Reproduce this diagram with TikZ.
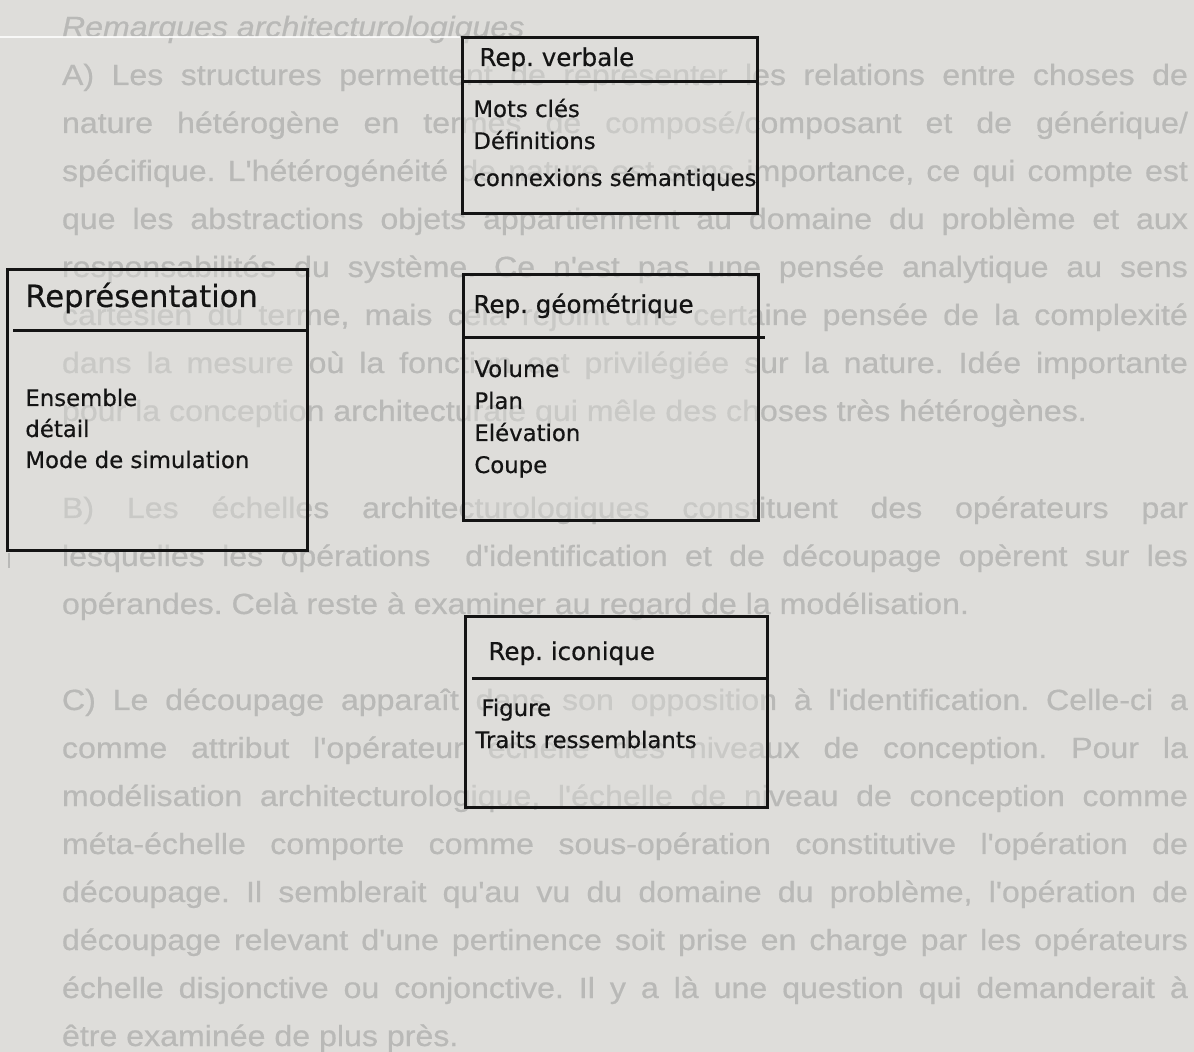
\documentclass[tikz,border=0pt]{standalone}
\usepackage{fontspec}
\setmainfont{DejaVu Sans}
\newfontfamily\pagefont{Liberation Sans}[FakeStretch=1.1, FakeBold=0.6]
\newfontfamily\boxfont{DejaVu Sans}[FakeBold=0.5]

\definecolor{pagebg}{HTML}{DEDDDA}
\definecolor{pagegray}{HTML}{B9B9B7}
\definecolor{inkblack}{HTML}{141414}

\tikzset{
  pagetext/.style={anchor=base west, inner sep=0pt, outer sep=0pt, text=pagegray,
    font=\pagefont\fontsize{14.6pt}{17pt}\selectfont},
  classbox/.style={draw=inkblack, line width=1.5pt, fill=pagebg, fill opacity=0.45,
    inner sep=0pt, outer sep=0pt, rectangle},
  sepline/.style={draw=inkblack, line width=1.5pt},
  headtext/.style={anchor=base west, inner sep=0pt, text=inkblack,
    font=\boxfont\fontsize{12.3pt}{14pt}\selectfont},
  bigheadtext/.style={anchor=base west, inner sep=0pt, text=inkblack,
    font=\boxfont\fontsize{15.3pt}{18pt}\selectfont},
  itemtext/.style={anchor=base west, inner sep=0pt, text=inkblack,
    font=\boxfont\fontsize{11.4pt}{13pt}\selectfont},
}
\newcommand{\jline}[1]{\makebox[563pt][s]{#1}}

\begin{document}
\frenchspacing
\begin{tikzpicture}[x=0.5pt, y=-0.5pt]
  % page
  \fill[pagebg] (0,0) rectangle (1194,1052);
  \useasboundingbox (0,0) rectangle (1194,1052);

  % running text of the page
  \node[pagetext] (title) at (62,37) {\itshape Remarques architecturologiques};
  \node[pagetext] (a1) at (62,85)  {\jline{A) Les structures permettent de représenter les relations entre choses de}};
  \node[pagetext] (a2) at (62,133) {\jline{nature hétérogène en termes de composé/composant et de générique/}};
  \node[pagetext] (a3) at (62,181) {\jline{spécifique. L'hétérogénéité de nature est sans importance, ce qui compte est}};
  \node[pagetext] (a4) at (62,229) {\jline{que les abstractions objets appartiennent au domaine du problème et aux}};
  \node[pagetext] (a5) at (62,277) {\jline{responsabilités du système. Ce n'est pas une pensée analytique au sens}};
  \node[pagetext] (a6) at (62,325) {\jline{cartesien du terme, mais cela rejoint une certaine pensée de la complexité}};
  \node[pagetext] (a7) at (62,373) {\jline{dans la mesure où la fonction est privilégiée sur la nature. Idée importante}};
  \node[pagetext] (a8) at (62,421) {pour la conception architecturale qui mêle des choses très hétérogènes.};
  \node[pagetext] (b1) at (62,518) {\jline{B) Les échelles architecturologiques constituent des opérateurs par}};
  \node[pagetext] (b2) at (62,566) {\jline{lesquelles les opérations\ \ d'identification et de découpage opèrent sur les}};
  \node[pagetext] (b3) at (62,614) {opérandes. Celà reste à examiner au regard de la modélisation.};
  \node[pagetext] (c1) at (62,710) {\jline{C) Le découpage apparaît dans son opposition à l'identification. Celle-ci a}};
  \node[pagetext] (c2) at (62,758) {\jline{comme attribut l'opérateur échelle des niveaux de conception. Pour la}};
  \node[pagetext] (c3) at (62,806) {\jline{modélisation architecturologique, l'échelle de niveau de conception comme}};
  \node[pagetext] (c4) at (62,854) {\jline{méta-échelle comporte comme sous-opération constitutive l'opération de}};
  \node[pagetext] (c5) at (62,902) {\jline{découpage. Il semblerait qu'au vu du domaine du problème, l'opération de}};
  \node[pagetext] (c6) at (62,950) {\jline{découpage relevant d'une pertinence soit prise en charge par les opérateurs}};
  \node[pagetext] (c7) at (62,998) {\jline{échelle disjonctive ou conjonctive. Il y a là une question qui demanderait à}};
  \node[pagetext] (c8) at (62,1046) {être examinée de plus près.};

  % scanner streak and margin mark
  \draw[white, opacity=0.8, line width=0.6pt] (0,37) -- (460,37);
  \draw[pagegray, line width=0.8pt] (9,553) -- (9,568);

  % Representation
  \node[classbox, minimum width=150pt, minimum height=140.5pt] (repr) at (157,410.5) {};
  \draw[sepline] (13,331) -- (307,331);
  \node[bigheadtext] (reprh) at (25,307) {Représentation};
  \node[itemtext] (repr1) at (25,406) {Ensemble};
  \node[itemtext] (repr2) at (25,437) {détail};
  \node[itemtext] (repr3) at (25,468) {Mode de simulation};

  % Rep. verbale
  \node[classbox, minimum width=147.5pt, minimum height=88pt] (verb) at (609.5,126) {};
  \draw[sepline] (462,82) -- (757,82);
  \node[headtext] (verbh) at (479,66) {Rep. verbale};
  \node[itemtext] (verb1) at (473,117) {Mots clés};
  \node[itemtext] (verb2) at (473,149) {Définitions};
  \node[itemtext] (verb3) at (473,186) {connexions sémantiques};

  % Rep. geometrique
  \node[classbox, minimum width=147.5pt, minimum height=123pt] (geom) at (610.5,398) {};
  \draw[sepline] (463,338) -- (765,338);
  \node[headtext] (geomh) at (473,313) {Rep. géométrique};
  \node[itemtext] (geom1) at (474,377) {Volume};
  \node[itemtext] (geom2) at (474,409) {Plan};
  \node[itemtext] (geom3) at (474,441) {Elévation};
  \node[itemtext] (geom4) at (474,473) {Coupe};

  % Rep. iconique
  \node[classbox, minimum width=151pt, minimum height=95.5pt] (icon) at (616,712.5) {};
  \draw[sepline] (472,679) -- (767,679);
  \node[headtext] (iconh) at (488,660) {Rep. iconique};
  \node[itemtext] (icon1) at (481,716) {Figure};
  \node[itemtext] (icon2) at (475,748) {Traits ressemblants};
\end{tikzpicture}
\end{document}
